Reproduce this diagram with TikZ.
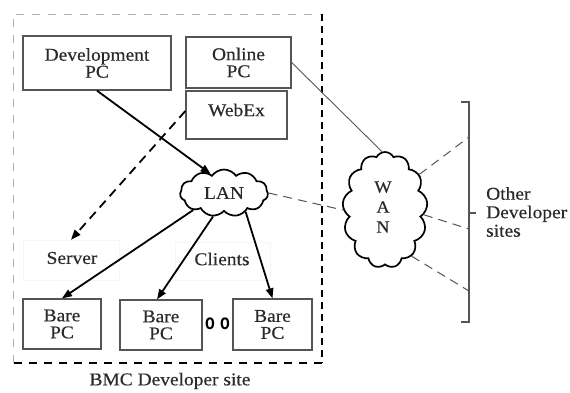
\documentclass[tikz,border=0pt]{standalone}
\usepackage{fontspec}
\setmainfont{Liberation Serif}[FakeStretch=1.08,FakeBold=0.4]
\setsansfont{Liberation Sans}
\usetikzlibrary{arrows.meta,shapes.symbols,calc}
\definecolor{boxgray}{HTML}{555555}
\definecolor{txtgray}{HTML}{2A2A2A}
\tikzset{
  pcbox/.style={draw=boxgray,line width=1.3pt,rectangle,inner sep=0pt,align=center,
    text=txtgray,font=\fontsize{18}{17}\selectfont},
  faintbox/.style={draw=gray!7,line width=0.6pt,rectangle,inner sep=0pt},
  lbl/.style={text=txtgray,font=\fontsize{18}{17}\selectfont,inner sep=0pt,align=center},
  conn/.style={line width=1.8pt,-{Triangle[length=10pt,width=7.5pt]}},
  dconn/.style={line width=1.8pt,dash pattern=on 9pt off 6pt,-{Triangle[length=10pt,width=7.5pt]}},
  thinline/.style={line width=0.9pt,draw=boxgray},
  dline/.style={line width=1pt,draw=boxgray,dash pattern=on 9pt off 6pt},
  cloudy/.style={cloud,draw,line width=1.7pt,cloud ignores aspect,inner sep=0pt,
    text=txtgray,font=\fontsize{18}{17}\selectfont,align=center}
}
\begin{document}
\begin{tikzpicture}[x=1pt,y=-1pt]
\useasboundingbox (0,0) rectangle (570,392);
\fill[white] (0,0) rectangle (570,392);
% outer frame
\coordinate (ftl) at (13,14);
\coordinate (ftr) at (322,14);
\coordinate (fbl) at (13,363);
\coordinate (fbr) at (322,363);
\draw[gray!60,line width=0.7pt,dash pattern=on 8pt off 8pt] (fbl) -- (ftl) -- (ftr);
\draw[black,line width=2.6pt,dash pattern=on 7pt off 5pt] (ftr) -- (fbr);
\draw[black,line width=2pt,dash pattern=on 8pt off 7pt] (fbr) -- (fbl);
% boxes
\node[pcbox,minimum width=148pt,minimum height=54pt] (dev) at (97,63) {Development\\PC};
\node[pcbox,minimum width=105pt,minimum height=51pt] (online) at (238.5,62.5) {Online\\PC};
\node[pcbox,minimum width=101pt,minimum height=48pt] (webex) at (236.5,115) {};
\node[lbl] (webextxt) at (236.5,110) {WebEx};
\node[faintbox,minimum width=96pt,minimum height=40pt] (server) at (71,260) {};
\node[lbl] (servertxt) at (72,258) {Server};
\node[faintbox,minimum width=95pt,minimum height=38pt] (clients) at (222.5,261) {};
\node[lbl] (clientstxt) at (222,259) {Clients};
\node[pcbox,minimum width=78pt,minimum height=50pt] (bare1) at (62,324) {Bare\\PC};
\node[pcbox,minimum width=82pt,minimum height=50pt] (bare2) at (161,325) {Bare\\PC};
\node[pcbox,minimum width=79pt,minimum height=51pt] (bare3) at (272.5,324.5) {Bare\\PC};
\node[inner sep=0pt,yscale=1.35,transform shape,font=\sffamily\bfseries\fontsize{16}{16}\selectfont] (dots) at (217.5,324) {o\,\,o};
% clouds
\node[cloudy,cloud puffs=11,cloud puff arc=110,minimum width=88pt,minimum height=47pt] (lan) at (224,193) {LAN};
\node[cloudy,cloud puffs=13,cloud puff arc=125,minimum width=85pt,minimum height=116pt] (wan) at (385,210) {};
\node[lbl,font=\fontsize{17}{20}\selectfont] (wantxt) at (383,207) {W\\A\\N};
% arrows
\draw[conn] (dev.south) -- (lan.125);
\draw[dconn] (webex.west) ++(0,-4) coordinate (wx) (wx) -- (server.north);
\draw[conn] (lan.209) -- (bare1.north);
\draw[conn] (lan.245) -- ($(bare2.north)+(-4,0)$);
\draw[conn] (lan.319) -- (bare3.north);
% WAN links
\draw[thinline] (online.east) -- (wan.93);
\draw[dline] (lan.east) -- (wan.west);
\coordinate (b1) at (469,137);
\coordinate (b2) at (469,229);
\coordinate (b3) at (469,291);
\draw[dline] (wan.46) -- (b1);
\draw[dline] (wan.-7) -- (b2);
\draw[dline] (wan.-60) -- (b3);
% bracket
\coordinate (brt) at (469,102);
\coordinate (brb) at (469,322);
\coordinate (brm) at (469,213);
\draw[boxgray,line width=1.5pt] ($(brt)+(-8,0)$) -- (brt) -- (brb) -- ($(brb)+(-8,0)$);
\draw[boxgray,line width=1.5pt] (brm) -- ++(7,0);
\node[lbl,align=left,anchor=west,font=\fontsize{18}{18.5}\selectfont] (others) at (486,212) {Other\\Developer\\sites};
\node[lbl] (bmc) at (170,381) {BMC Developer site};
\end{tikzpicture}
\end{document}
